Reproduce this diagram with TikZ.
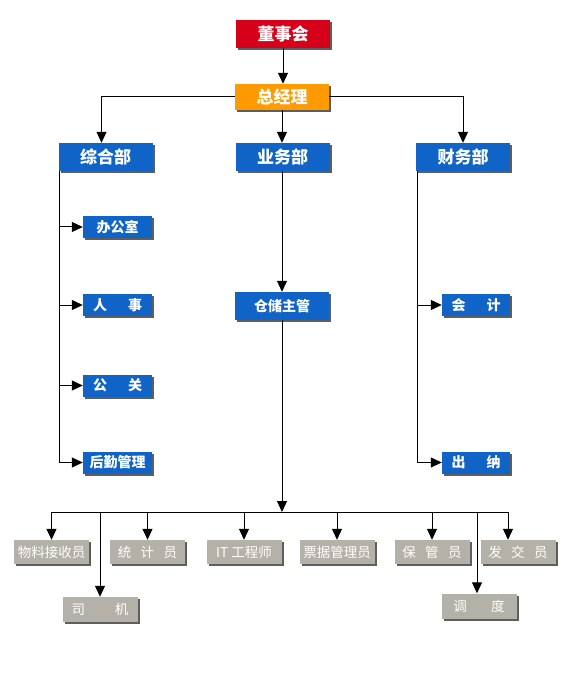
\documentclass[tikz,border=0pt]{standalone}
\usepackage{fontspec}
\setmainfont{Noto Sans CJK SC}
\usetikzlibrary{arrows.meta,positioning,shadows}
\definecolor{orgRed}{HTML}{D7001B}
\definecolor{orgOrange}{HTML}{FF9A00}
\definecolor{orgBlue}{HTML}{1064C8}
\definecolor{orgGray}{HTML}{B4B1A8}
\definecolor{orgShadow}{HTML}{5E5E5E}

\begin{document}
\begin{tikzpicture}[x=1pt,y=-1pt,
   box/.style={fill=#1,text=white,inner sep=0pt,
               general shadow={fill=orgShadow,shadow xshift=2pt,shadow yshift=-2pt}},
   head/.style={box=#1,minimum width=94pt,minimum height=28pt,
                font=\fontsize{17}{17}\selectfont\bfseries},
   unit/.style={box=orgBlue,minimum width=69pt,minimum height=22pt,
                font=\fontsize{14}{14}\selectfont\bfseries},
   staff/.style={box=orgGray,minimum width=75pt,minimum height=24pt,
                 font=\fontsize{13.5}{13.5}\selectfont},
   arr/.style={-{Triangle[width=10pt,length=11pt]},line width=1pt}]
  \useasboundingbox (0,0) rectangle (573,700);
  % top levels
  \node[head=orgRed] (board) at (283,34) {董事会};
  \node[head=orgOrange,minimum height=26pt] (gm) at (282,97) {总经理};
  \node[head=orgBlue] (admin) at (105.5,157) {综合部};
  \node[head=orgBlue] (biz) at (282.5,157) {业务部};
  \node[head=orgBlue] (fin) at (463,157) {财务部};
  % units
  \node[unit] (office) at (117.5,227) {办公室};
  \node[unit] (hr) at (117.5,305) {人\hspace{1.5em}事};
  \node[unit] (pr) at (117.5,385.5) {公\hspace{1.5em}关};
  \node[unit] (logi) at (117.5,462.5) {后勤管理};
  \node[head=orgBlue,font=\fontsize{14}{14}\selectfont\bfseries] (store) at (282,306) {仓储主管};
  \node[unit,minimum width=68pt] (acct) at (476,305) {会\hspace{1.5em}计};
  \node[unit,minimum width=68pt] (cash) at (476,462.5) {出\hspace{1.5em}纳};
  % staff
  \node[staff] (recv) at (51.5,552) {物料接收员};
  \node[staff] (stat) at (147.5,552) {统\hspace{0.7em}计\hspace{0.7em}员};
  \node[staff] (it) at (244,552) {IT 工程师};
  \node[staff] (bill) at (337,552) {票据管理员};
  \node[staff] (keep) at (432,552) {保\hspace{0.7em}管\hspace{0.7em}员};
  \node[staff] (issue) at (518,552) {发\hspace{0.7em}交\hspace{0.7em}员};
  \node[staff,minimum height=25pt] (driver) at (100,609.5) {司\hspace{2.2em}机};
  \node[staff,minimum height=25pt] (dispatch) at (479,606) {调\hspace{1.8em}度};
  \coordinate (busL) at (52,512);
  \coordinate (busR) at (508,512);
  % connectors
  \draw[arr] (board.south) -- (board.south |- gm.north);
  \draw[arr] (gm.west) -| ([xshift=-4pt]admin.north);
  \draw[arr] (gm.east) -| (fin.north);
  \draw[arr] (gm.south) -- (gm.south |- biz.north);
  \draw[arr] (biz.south -| gm.south) -- (gm.south |- store.north);
  \foreach \n in {office,hr,pr,logi}
    \draw[arr] ([xshift=1pt]admin.south west) |- (\n.west);
  \foreach \n in {acct,cash}
    \draw[arr] ([xshift=2pt]fin.south west) |- (\n.west);
  \draw[arr] (store.south) -- (store.south |- busL);
  \draw[line width=1pt] (busL) -- (busR);
  \foreach \n in {recv,stat,it,bill,keep,driver}
    \draw[arr] (\n.north |- busL) -- (\n.north);
  \draw[arr] (busR) -- (busR |- issue.north);
  \draw[arr] ([xshift=-2pt]dispatch.north |- busL) -- ([xshift=-2pt]dispatch.north);
\end{tikzpicture}
\end{document}
